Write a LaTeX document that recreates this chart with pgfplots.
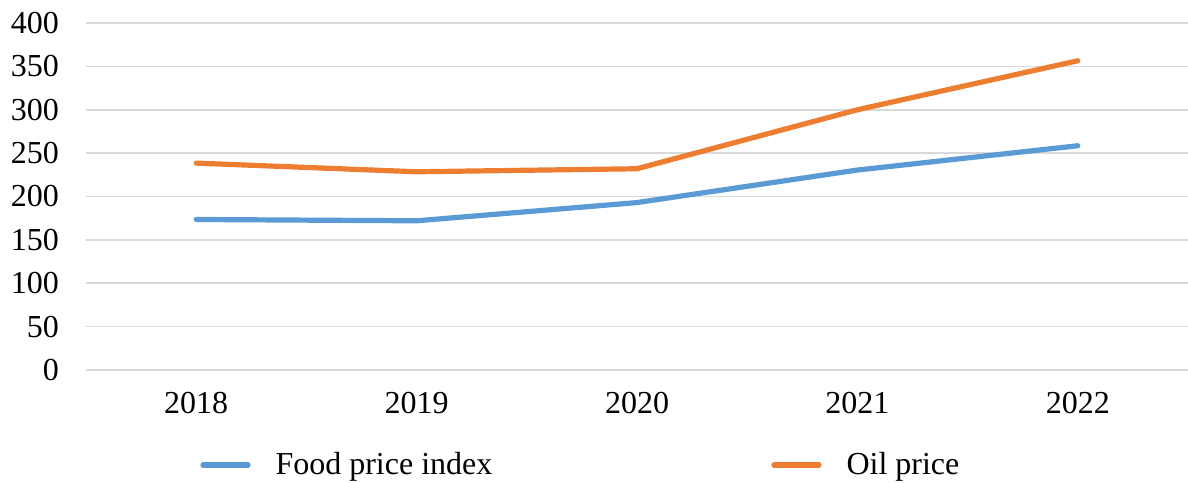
\documentclass[border=0pt]{standalone}
\usepackage{fontspec}
\setmainfont{Liberation Serif}
\usepackage{pgfplots}
\pgfplotsset{compat=1.18}
\definecolor{foodblue}{HTML}{5B9BD5}
\definecolor{oilorange}{HTML}{ED7D31}
\definecolor{gridgray}{HTML}{D9D9D9}
\begin{document}
\begin{tikzpicture}
\begin{axis}[
  scale only axis,
  width=551pt, height=173.5pt,
  xmin=-0.5, xmax=4.5, ymin=0, ymax=400,
  xtick={0,1,2,3,4},
  xticklabels={2018,2019,2020,2021,2022},
  ytick={0,50,...,400},
  ymajorgrids,
  grid style={line width=0.85pt, color=gridgray},
  axis line style={draw=none},
  major tick length=0pt,
  tick label style={font=\fontsize{16}{19}\selectfont},
  /pgf/number format/assume math mode=true,
  /pgf/number format/1000 sep={},
  xticklabel style={yshift=-7.7pt},
  yticklabel style={xshift=-10pt},
  legend columns=2,
  legend style={
    at={(rel axis cs:0.1034,-0.274)}, anchor=west,
    draw=none, fill=none, inner sep=0pt,
    font=\fontsize{16}{19}\selectfont,
    /tikz/every odd column/.append style={column sep=10.5pt},
    /tikz/every even column/.append style={column sep=137.5pt},
  },
  legend cell align=left,
  legend image code/.code={\draw[#1] (1.25pt,0pt) -- (23.75pt,0pt);},
]
\addplot[color=foodblue, line width=2.6pt, line cap=round, line join=round]
  coordinates {(0,173.5) (1,172) (2,193) (3,230.5) (4,258.5)};
\addlegendentry{Food price index}
\addplot[color=oilorange, line width=2.6pt, line cap=round, line join=round]
  coordinates {(0,238.5) (1,228.5) (2,232) (3,300) (4,356.5)};
\addlegendentry{Oil price}
\end{axis}
\pgfresetboundingbox
\path[use as bounding box] ([shift={(-43pt,-56pt)}]current axis.south west) rectangle ([shift={(0pt,11.5pt)}]current axis.north east);
\end{tikzpicture}
\end{document}
